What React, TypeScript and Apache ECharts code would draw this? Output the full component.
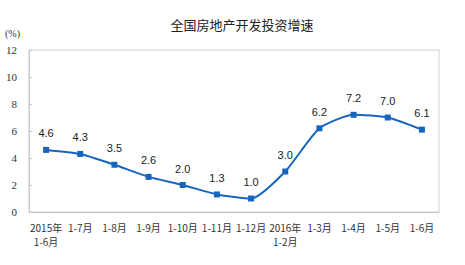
import React, { useEffect, useRef } from "react";
import * as echarts from "echarts";

const categories = [
  "2015年\n1-6月", "1-7月", "1-8月", "1-9月", "1-10月", "1-11月", "1-12月",
  "2016年\n1-2月", "1-3月", "1-4月", "1-5月", "1-6月",
];
const growth = [4.6, 4.3, 3.5, 2.6, 2.0, 1.3, 1.0, 3.0, 6.2, 7.2, 7.0, 6.1];
const yTicks = { min: 0, max: 12, interval: 2 };
const title = "全国房地产开发投资增速";
const unit = "(%)";

export default function App() {
  const ref = useRef<HTMLDivElement>(null);
  useEffect(() => {
    const chart = echarts.init(ref.current!, undefined, { renderer: "svg" });
    chart.setOption({
      animation: false,
      backgroundColor: "#ffffff",
      title: {
        text: title,
        left: 237,
        textAlign: "center",
        top: 13,
        textStyle: { fontSize: 13, fontWeight: "normal", color: "#222", fontFamily: "Noto Sans CJK SC" },
      },
      graphic: [
        {
          type: "text",
          left: 5,
          top: 28,
          style: { text: unit, fontSize: 10, fill: "#333", fontFamily: "Liberation Serif" },
        },
      ],
      grid: {
        left: 29,
        right: 26,
        top: 50,
        bottom: 53,
        show: true,
        borderColor: "#d0d0d0",
        borderWidth: 1,
        containLabel: false,
      },
      xAxis: {
        type: "category",
        data: categories,
        boundaryGap: true,
        axisLine: { lineStyle: { color: "#c8c8c8" } },
        axisTick: { inside: true, length: 3, lineStyle: { color: "#c8c8c8" } },
        axisLabel: {
          interval: 0,
          color: "#333",
          fontSize: 10,
          fontFamily: "Noto Sans CJK SC",
          margin: 8,
          lineHeight: 14,
        },
      },
      yAxis: {
        type: "value",
        min: yTicks.min,
        max: yTicks.max,
        interval: yTicks.interval,
        splitLine: { show: false },
        axisLine: { show: true, lineStyle: { color: "#c8c8c8" } },
        axisTick: { show: true, inside: true, length: 3, lineStyle: { color: "#c8c8c8" } },
        axisLabel: { color: "#333", fontSize: 11, fontFamily: "Liberation Serif", margin: 12 },
      },
      series: [
        {
          type: "line",
          data: growth,
          smooth: 0.2,
          symbol: "rect",
          symbolSize: 6,
          lineStyle: { color: "#1565c0", width: 2 },
          itemStyle: { color: "#1565c0" },
          label: {
            show: true,
            position: "top",
            distance: 8,
            color: "#222",
            fontSize: 11,
            fontFamily: "Liberation Sans",
            formatter: (p: any) => p.value.toFixed(1),
          },
        },
      ],
    });
    return () => chart.dispose();
  }, []);
  return <div ref={ref} style={{ position: "fixed", left: 0, top: 0, width: 465, height: 265 }} />;
}
